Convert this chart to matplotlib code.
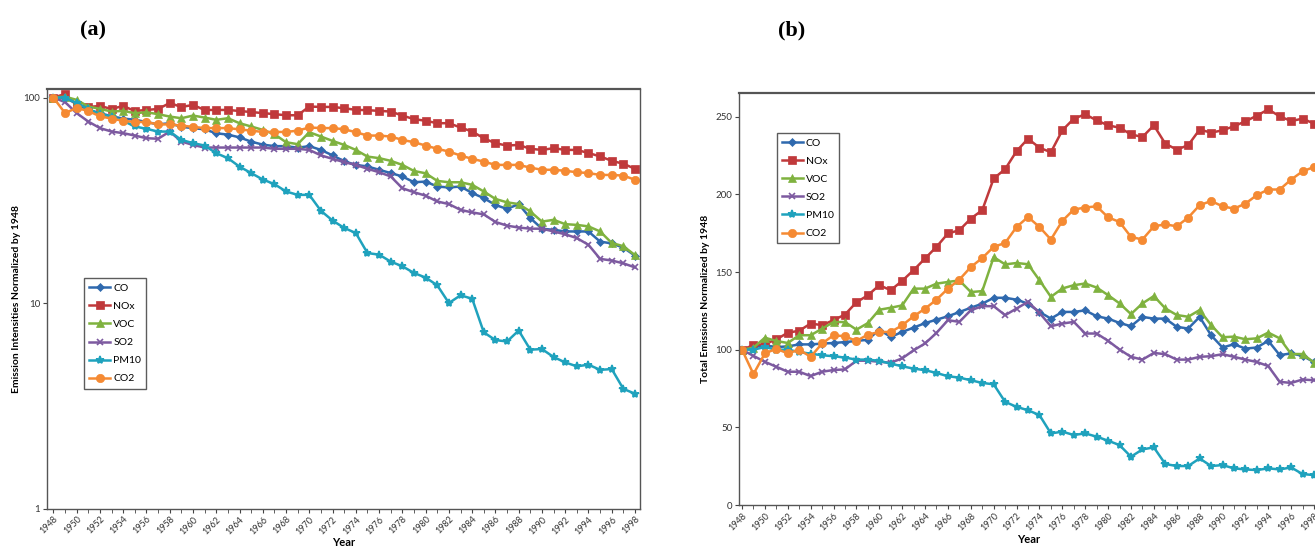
import matplotlib
matplotlib.use("Agg")
import matplotlib.pyplot as plt
from matplotlib.ticker import MultipleLocator, FixedLocator, NullLocator

plt.rcParams['font.family'] = ['Lato', 'DejaVu Sans']

years = list(range(1948, 1999))

# (a) emission intensities, normalized by 1948
co_a = [100, 100, 93, 87, 84, 81, 79, 78, 76, 74,
        75, 72, 71, 70, 67, 66, 64, 61, 59, 58,
        58, 57, 58, 55.6, 52.3, 49, 47, 46.2, 44.5, 42.9,
        41.3, 38.7, 39, 36.9, 36.5, 36.9, 34.3, 32.4, 30, 28.7,
        30.3, 25.9, 23, 22.7, 22.3, 22.3, 22.3, 19.9, 19.5, 18.6,
        17.0]
nox_a = [100, 104, 92, 90, 91, 88, 91, 86, 87, 88,
         94, 90, 92, 87, 87, 87, 86, 85, 84, 83,
         82, 82, 90.4, 90, 90, 88.7, 87.1, 86.8, 86.1, 85.5,
         81.7, 78.5, 77.1, 75, 75, 71.5, 68.3, 63.4, 59.9, 58.4,
         58.8, 56.3, 55.6, 56.7, 55.6, 55.6, 53.7, 51.7, 49.2, 47.6,
         45.0]
voc_a = [100, 101, 97.4, 90.4, 88.1, 85.5, 86.1, 83.9, 84.8, 83,
         80.8, 79.3, 81.7, 79.9, 77.9, 79.3, 75, 72.3, 69.6, 66.3,
         60.6, 59.3, 67.8, 64.6, 61.5, 58.8, 55.6, 51.6, 50.7, 49.2,
         47, 43.9, 42.8, 39.3, 38.7, 38.7, 37.6, 34.9, 32.1, 30.9,
         30.3, 27.9, 24.9, 25.4, 24.2, 24, 23.6, 22.3, 19.6, 18.9,
         17.1]
so2_a = [100, 95, 84, 76.4, 71, 68.3, 67.1, 65.3, 63.4, 63,
         68.3, 61.1, 58.8, 57.1, 57.1, 57.1, 57.1, 57.1, 57.1, 56.3,
         56.3, 56.3, 55.6, 52.3, 50.3, 48.5, 47, 45, 43.3, 41.3,
         36.2, 34.6, 33.3, 31.2, 30.3, 28.4, 27.6, 27, 24.8, 23.8,
         23.3, 23, 23, 22.3, 21.6, 20.7, 19.2, 16.4, 16.1, 15.6,
         14.9]
pm10_a = [100, 100, 93.9, 88.1, 83, 80.8, 77, 72.3, 70.4, 68.3,
          68.3, 62.2, 60, 58.4, 53.6, 50.7, 46.1, 42.9, 39.9, 37.9,
          34.9, 33.6, 33.6, 28.1, 25.2, 23.2, 21.9, 17.5, 17.2, 15.9,
          15.1, 14, 13.3, 12.2, 10, 10.9, 10.5, 7.2, 6.6, 6.5,
          7.35, 5.93, 5.97, 5.46, 5.14, 4.92, 5.01, 4.73, 4.77, 3.82,
          3.62]
co2_a = [100, 84, 89, 86, 81, 79, 77, 76, 76, 74,
         74, 73, 72, 71, 71, 71, 70, 69, 68, 68,
         68, 69, 71.5, 71, 71, 70.1, 67.8, 65.3, 65.3, 64.6,
         62.2, 60.6, 58.4, 56.3, 54.6, 52.2, 50.3, 48.8, 47, 47,
         47, 45.6, 44.5, 44.5, 44, 43.3, 42.9, 42, 42, 41.7,
         39.8]

# (b) total emissions, normalized by 1948
co_b = [100, 101.7, 102.8, 101.7, 102.1, 103.4, 103.4, 103.9, 104.3, 104.9,
        105.6, 106.4, 112.9, 108.2, 111.4, 114.2, 117.1, 119.3, 121.5, 124.2,
        127, 129.6, 133.4, 133.4, 132.2, 129.6, 124.3, 120, 124.3, 124.3,
        125.3, 121.5, 120, 117.2, 115.1, 121.1, 120, 120, 114.7, 113.6,
        121.1, 109.3, 101.4, 103.5, 100.7, 101.4, 105.7, 96.5, 97.6, 96,
        92]
nox_b = [100, 102.9, 103.6, 106.6, 110.9, 112.2, 116.8, 115.8, 119, 122.6,
         130.5, 135, 141.5, 138.3, 144.3, 151.2, 158.7, 166.2, 174.8, 176.9,
         184.4, 189.8, 210.2, 216.2, 227.8, 235.8, 230, 227.1, 241.2, 248.7,
         251.5, 247.6, 244.4, 242.9, 238.6, 236.9, 244.4, 232.6, 228.8, 231.6,
         241.7, 239.7, 241.2, 243.8, 247, 250.6, 254.7, 250.2, 247.2, 248.7,
         245.5]
voc_b = [100, 101.3, 107.7, 105.6, 104.3, 109.3, 109.3, 113.5, 117.8, 117.8,
         112.9, 117.1, 125.7, 127, 128.5, 139.3, 139.3, 142.5, 143.6, 144.6,
         137.1, 137.7, 159.6, 154.9, 155.8, 155, 144.7, 134, 139.4, 141.5,
         142.6, 140, 135.1, 129.8, 122.9, 129.8, 134.5, 126.6, 122.3, 121.2,
         125.5, 115.9, 108, 108.4, 106.7, 107.3, 111, 107.3, 97.2, 97.2,
         91.7]
so2_b = [100, 96, 92.2, 89, 85.8, 85.8, 83, 85.8, 86.9, 87.3,
         92.9, 92.9, 92.2, 91.6, 94.4, 99.6, 104, 110.8, 119, 117.9,
         125.4, 128, 128, 122.2, 126.5, 130.8, 123.7, 115.1, 116.8, 117.9,
         110.4, 110.4, 105.7, 100.1, 95.4, 93.6, 97.9, 97.1, 93.6, 93.6,
         95.4, 95.8, 97.1, 95.4, 93.6, 92.1, 89.4, 79.3, 78.6, 80.8,
         80.3]
pm10_b = [100, 100, 101.7, 100, 100, 98.5, 97.4, 96.4, 95.8, 94.9,
          93.6, 93.6, 92.8, 91, 89.3, 87.8, 86.8, 85, 82.9, 82,
          80.3, 78.6, 77.7, 66.4, 63.2, 61, 57.9, 46.1, 47.2, 45.1,
          46.1, 44, 41.4, 38.6, 31.1, 35.8, 37.1, 26.4, 25.1, 25.1,
          30, 25.1, 25.7, 23.6, 22.9, 22.5, 23.6, 22.9, 24.2, 19.9,
          19.3]
co2_b = [100, 84.3, 97.6, 100.6, 97.6, 100, 95.4, 104, 109.3, 108.6,
         105.6, 109.7, 111.4, 111.4, 115.7, 121.5, 126.4, 132.2, 139.3, 145.1,
         153.2, 159, 166.2, 168.7, 179, 185.4, 179, 170.9, 182.9, 190.2,
         191.5, 192.3, 185.2, 182.2, 172.6, 170.9, 179.4, 180.7, 179.4, 185,
         193, 195.7, 192.3, 190.8, 194, 199.5, 203.1, 203.1, 209.5, 214.8,
         217.6]

names = ['CO', 'NOx', 'VOC', 'SO2', 'PM10', 'CO2']
colors = ['#2f69ae', '#c0393b', '#7fb23f', '#7d5aa0', '#1fa2bd', '#f58a33']
markers = ['D', 's', '^', 'x', '*', 'o']
msizes = [4, 6, 6, 5, 6, 6]

fig = plt.figure(figsize=(13.15, 5.54), dpi=100)
ax1 = fig.add_axes([0.036, 0.0821, 0.4507, 0.7572])
ax2 = fig.add_axes([0.562, 0.0884, 0.4410, 0.7431])

series_a = [co_a, nox_a, voc_a, so2_a, pm10_a, co2_a]
series_b = [co_b, nox_b, voc_b, so2_b, pm10_b, co2_b]

for ax, series in [(ax1, series_a), (ax2, series_b)]:
    for vals, name, c, m, ms in zip(series, names, colors, markers, msizes):
        ax.plot(years, vals, color=c, marker=m, markersize=ms, lw=1.8,
                markeredgewidth=1.2 if m in 'x*' else 0.5, label=name)
    ax.xaxis.set_major_locator(MultipleLocator(2))
    ax.xaxis.set_minor_locator(MultipleLocator(1))
    ax.tick_params(axis='x', which='major', labelsize=6.5, rotation=45, length=3,
                   pad=1.5, color='#444', labelcolor='#333')
    ax.tick_params(axis='x', which='minor', length=3, color='#444')
    ax.tick_params(axis='y', labelsize=7, length=3, pad=2, color='#444', labelcolor='#333')
    for lab in ax.get_xticklabels():
        lab.set_ha('right')
        lab.set_rotation_mode('anchor')
    for s in ax.spines.values():
        s.set_color('#555')
        s.set_linewidth(1.0)
    ax.spines['top'].set_linewidth(1.6)
    ax.set_xlabel('Year', fontsize=8, fontweight='bold', labelpad=1)
    leg = ax.legend(loc='upper left', fontsize=7.5, frameon=True, fancybox=False,
                    edgecolor='#333', handlelength=2.0, handletextpad=0.3,
                    labelspacing=0.85, borderpad=0.5, borderaxespad=0)
    leg.get_frame().set_linewidth(1.0)

ax1.set_yscale('log')
ax1.set_ylim(1, 110)
ax1.set_xlim(1947.48, 1998.43)
ax1.yaxis.set_major_locator(FixedLocator([1, 10, 100]))
ax1.yaxis.set_minor_locator(NullLocator())
ax1.set_yticklabels(['1', '10', '100'])
ax1.set_ylabel('Emission Intensities Normalized by 1948', fontsize=7.5,
               fontweight='bold', labelpad=2)
ax1.get_legend().set_bbox_to_anchor((0.062, 0.549))

ax2.set_ylim(0, 265)
ax2.set_xlim(1947.74, 1998.43)
ax2.yaxis.set_major_locator(MultipleLocator(50))
ax2.set_ylabel('Total Emissions Normalized by 1948', fontsize=7.5,
               fontweight='bold', labelpad=4)
ax2.get_legend().set_bbox_to_anchor((0.065, 0.9036))

fig.text(0.061, 0.945, '(a)', fontsize=16, fontweight='bold',
         family='Liberation Serif', ha='left', va='center')
fig.text(0.592, 0.945, '(b)', fontsize=16, fontweight='bold',
         family='Liberation Serif', ha='left', va='center')

fig.savefig('out.png', dpi=100)
